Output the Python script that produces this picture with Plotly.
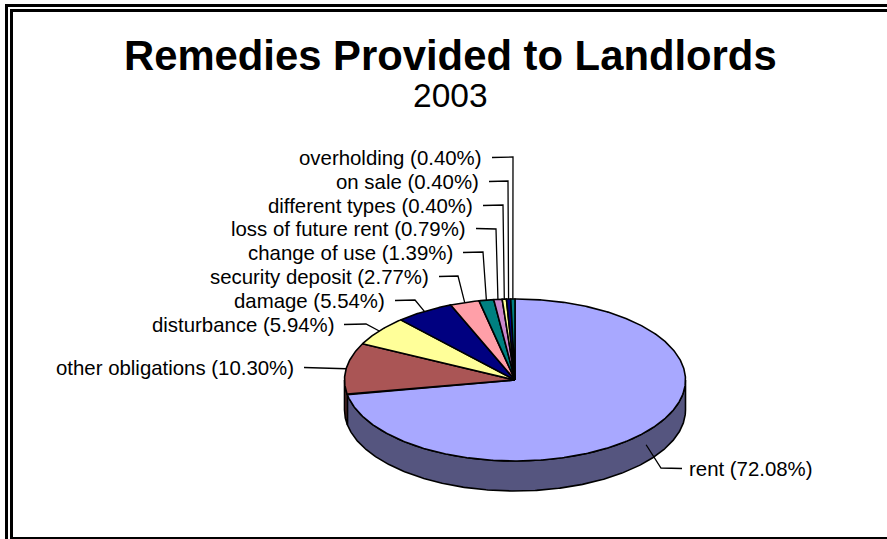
import math
import plotly.graph_objects as go

# Share of remedies by type, in drawing order (clockwise from 12 o'clock)
categories = ["rent", "other obligations", "disturbance", "damage", "security deposit",
              "change of use", "loss of future rent", "different types", "on sale", "overholding"]
shares = [72.08, 10.30, 5.94, 5.54, 2.77, 1.39, 0.79, 0.40, 0.40, 0.40]
top_colors = ["#A8A8FF", "#AA5555", "#FFFF99", "#000080", "#FF9FA8",
              "#008080", "#CC88CC", "#FFFF99", "#000080", "#008080"]
side_colors = ["#55557F", "#552B2B", "#7F7F4C", "#000040", "#7F4F54",
               "#004040", "#664466", "#7F7F4C", "#000040", "#004040"]

# Pie geometry in page pixels
CX, CY, RX, RY, DEPTH = 515.0, 380.0, 170.5, 81.0, 30.0
FONT = "Liberation Sans, Arial, sans-serif"
W, H = 887, 539

# Label placement: text edge (left edge for rent, right edge otherwise), row, leader elbow
label_layout = {
    "rent": (687, 469, (661, 468), "left"),
    "other obligations": (296, 368, None, "right"),
    "disturbance": (336, 325, (366, 324), "right"),
    "damage": (387, 301, (415, 300), "right"),
    "security deposit": (431, 277, (458, 276), "right"),
    "change of use": (455, 253, (483, 252), "right"),
    "loss of future rent": (468, 229, (496, 229), "right"),
    "different types": (475, 206, (503, 205), "right"),
    "on sale": (481, 182, (508, 181), "right"),
    "overholding": (484, 158, (513, 157), "right"),
}


def rim(theta_deg, drop=0.0):
    t = math.radians(theta_deg)
    return CX + RX * math.sin(t), CY - RY * math.cos(t) + drop


def arc(a, b, drop=0.0):
    n = max(2, int(abs(b - a) * 2))
    return [rim(a + (b - a) * i / n, drop) for i in range(n + 1)]


fig = go.Figure()
outline = dict(color="black", width=1.6)

# Running angle for each slice
angles = []
acc = 0.0
total = sum(shares)
for s in shares:
    angles.append((acc, acc + s / total * 360))
    acc += s / total * 360

# Visible wall of the disc: only the front half (90 to 270 degrees)
for (a, b), col in zip(angles, side_colors):
    lo, hi = max(a, 90), min(b, 270)
    if lo >= hi:
        continue
    pts = arc(lo, hi) + arc(hi, lo, DEPTH)
    pts.append(pts[0])
    fig.add_trace(go.Scatter(x=[p[0] for p in pts], y=[p[1] for p in pts], mode="lines",
                             fill="toself", fillcolor=col, line=outline, hoverinfo="skip"))

# Top face wedges
for (a, b), col, name in zip(angles, top_colors, categories):
    pts = [(CX, CY)] + arc(a, b) + [(CX, CY)]
    fig.add_trace(go.Scatter(x=[p[0] for p in pts], y=[p[1] for p in pts], mode="lines",
                             fill="toself", fillcolor=col, line=outline, name=name,
                             hoverinfo="name"))

# Leader lines and labels
annotations = []
for (a, b), name, value in zip(angles, categories, shares):
    tx, ty, elbow, side = label_layout[name]
    mid = (a + b) / 2
    end = rim(mid, 13.0) if name == "rent" else rim(mid)
    start = (tx + 8, ty - 0.5) if side == "right" else (tx - 5, ty - 0.5)
    pts = [start, end] if elbow is None else [start, elbow, end]
    fig.add_trace(go.Scatter(x=[p[0] for p in pts], y=[p[1] for p in pts], mode="lines",
                             line=dict(color="black", width=1.3), hoverinfo="skip"))
    annotations.append(dict(x=tx, y=ty, xref="x", yref="y", xanchor=side, yanchor="middle",
                            text=f"{name} ({value:.2f}%)", showarrow=False,
                            font=dict(family=FONT, size=20.4, color="black")))

annotations.append(dict(x=450, y=55, xref="x", yref="y", xanchor="center", yanchor="middle",
                        text="<b>Remedies Provided to Landlords</b>", showarrow=False,
                        font=dict(family=FONT, size=41.8, color="black")))
annotations.append(dict(x=450, y=95, xref="x", yref="y", xanchor="center", yanchor="middle",
                        text="2003", showarrow=False,
                        font=dict(family=FONT, size=33.5, color="black")))

# Double-rule page frame
frame = [
    dict(type="line", x0=6.5, x1=6.5, y0=4, y1=H),
    dict(type="line", x0=5, x1=W, y0=5.5, y1=5.5),
    dict(type="line", x0=11.5, x1=11.5, y0=9, y1=H),
    dict(type="line", x0=10, x1=W, y0=10.5, y1=10.5),
]
for f in frame:
    f.update(xref="x", yref="y", line=dict(color="black", width=3), layer="below")
frame.append(dict(type="line", x0=10, x1=W, y0=538, y1=538, xref="x", yref="y",
                  line=dict(color="black", width=2), layer="below"))

fig.update_layout(
    width=W, height=H, margin=dict(l=0, r=0, t=0, b=0), showlegend=False,
    paper_bgcolor="white", plot_bgcolor="white",
    xaxis=dict(range=[0, W], visible=False, fixedrange=True),
    yaxis=dict(range=[H, 0], visible=False, fixedrange=True),
    annotations=annotations, shapes=frame,
)
fig.write_html("out.html", config={"displayModeBar": False})
